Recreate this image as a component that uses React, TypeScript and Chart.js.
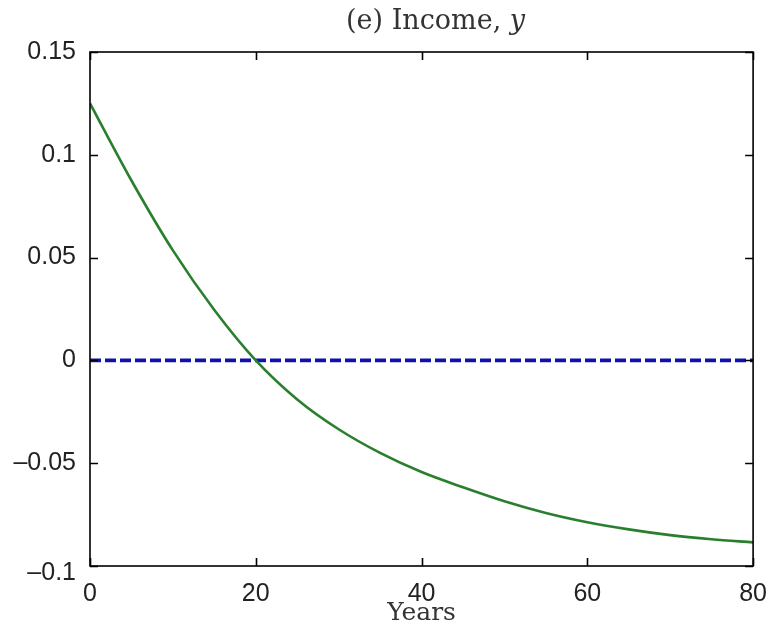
import React, { useEffect, useRef } from "react";
import { Chart, registerables } from "chart.js";

Chart.register(...registerables);

// ---- data ----
const years = [0, 5, 10, 15, 20, 25, 30, 35, 40, 45, 50, 55, 60, 65, 70, 75, 80];
const incomeResponse = [
  0.125, 0.0875, 0.0535, 0.0245, 0.0, -0.019, -0.0335, -0.045, -0.0543,
  -0.0617, -0.0685, -0.0742, -0.0787, -0.0822, -0.085, -0.087, -0.0885,
];
const baselineValues = [0, 0, 0, 0, 0, 0, 0, 0, 0, 0, 0, 0, 0, 0, 0, 0, 0];
const xTickValues = [0, 20, 40, 60, 80];
const yTickValues = [-0.1, -0.05, 0, 0.05, 0.1, 0.15];
const titleMain = "(e) Income, ";
const titleVar = "y";
const xAxisTitle = "Years";

const SANS = '"Liberation Sans", Arial, sans-serif';
const SERIF = '"DejaVu Serif", serif';

function fmtY(v: number): string {
  const r = Math.round(v * 100) / 100;
  if (r === 0) return "0";
  const s = String(Math.abs(r));
  return r < 0 ? "\u2013" + s : s;
}

const framePlugin = {
  id: "matlabFrame",
  afterDatasetsDraw(chart: any) {
    const { ctx, chartArea: a, scales } = chart;
    const xs = scales.x;
    const ys = scales.y;
    ctx.save();
    ctx.strokeStyle = "#000";
    ctx.lineWidth = 1.6;
    ctx.strokeRect(a.left, a.top, a.right - a.left, a.bottom - a.top);
    const tl = 8;
    ctx.beginPath();
    for (const v of xTickValues) {
      const px = Math.round(xs.getPixelForValue(v)) + 0.5;
      ctx.moveTo(px, a.bottom);
      ctx.lineTo(px, a.bottom - tl);
      ctx.moveTo(px, a.top);
      ctx.lineTo(px, a.top + tl);
    }
    for (const v of yTickValues) {
      const py = Math.round(ys.getPixelForValue(v)) + 0.5;
      ctx.moveTo(a.left, py);
      ctx.lineTo(a.left + tl, py);
      ctx.moveTo(a.right, py);
      ctx.lineTo(a.right - tl, py);
    }
    ctx.stroke();

    // title with italic variable
    ctx.fillStyle = "#333";
    ctx.textBaseline = "alphabetic";
    ctx.textAlign = "left";
    const fMain = `27px ${SERIF}`;
    const fVar = `italic 27px ${SERIF}`;
    ctx.font = fMain;
    const w1 = ctx.measureText(titleMain).width;
    ctx.font = fVar;
    const w2 = ctx.measureText(titleVar).width;
    const cx = (a.left + a.right) / 2 + 14;
    const x0 = cx - (w1 + w2) / 2;
    ctx.font = fMain;
    ctx.fillText(titleMain, x0, 29);
    ctx.font = fVar;
    ctx.fillText(titleVar, x0 + w1, 29);
    ctx.restore();
  },
};

export default function App() {
  const ref = useRef<HTMLCanvasElement | null>(null);

  useEffect(() => {
    if (!ref.current) return;
    const chart = new Chart(ref.current, {
      type: "line",
      data: {
        datasets: [
          {
            label: "Income",
            data: years.map((x, i) => ({ x, y: incomeResponse[i] })),
            borderColor: "#2a7f2e",
            borderWidth: 2.6,
            pointRadius: 0,
            cubicInterpolationMode: "monotone",
            fill: false,
          },
          {
            label: "Baseline",
            data: years.map((x, i) => ({ x, y: baselineValues[i] })),
            borderColor: "#1010aa",
            borderWidth: 3.6,
            borderDash: [11, 4],
            pointRadius: 0,
            fill: false,
          },
        ],
      },
      options: {
        animation: false,
        responsive: true,
        maintainAspectRatio: false,
        layout: { padding: { top: 52, right: 17, left: 0, bottom: 0 } },
        plugins: {
          legend: { display: false },
          tooltip: { enabled: false },
          title: { display: false },
        },
        scales: {
          x: {
            type: "linear",
            min: 0,
            max: 80,
            afterBuildTicks: (s: any) => {
              s.ticks = xTickValues.map((v) => ({ value: v }));
            },
            afterFit: (s: any) => {
              s.height = 66;
            },
            grid: { display: false },
            border: { display: false },
            ticks: {
              padding: 5,
              color: "#222",
              font: { family: SANS, size: 25 },
              maxRotation: 0,
              callback: (v: any) => String(v),
            },
            title: {
              display: true,
              text: xAxisTitle,
              color: "#333",
              font: { family: SERIF, size: 25 },
              padding: { top: 0, bottom: 4 },
            },
          },
          y: {
            type: "linear",
            min: -0.1,
            max: 0.15,
            afterBuildTicks: (s: any) => {
              s.ticks = yTickValues.map((v) => ({ value: v }));
            },
            afterFit: (s: any) => {
              s.width = 90;
            },
            grid: { display: false },
            border: { display: false },
            ticks: {
              padding: 6,
              color: "#222",
              font: (c: any) =>
                c.tick && c.tick.value < -0.09
                  ? { family: SANS, size: 25, lineHeight: "14px" }
                  : { family: SANS, size: 25 },
              callback: (v: any) => (Number(v) < -0.09 ? ["", fmtY(Number(v))] : fmtY(Number(v))),
            },
          },
        },
      },
      plugins: [framePlugin],
    } as any);
    return () => chart.destroy();
  }, []);

  return (
    <div
      style={{
        position: "fixed",
        left: 0,
        top: 0,
        width: 772,
        height: 632,
        background: "#fff",
      }}
    >
      <canvas ref={ref} />
    </div>
  );
}
